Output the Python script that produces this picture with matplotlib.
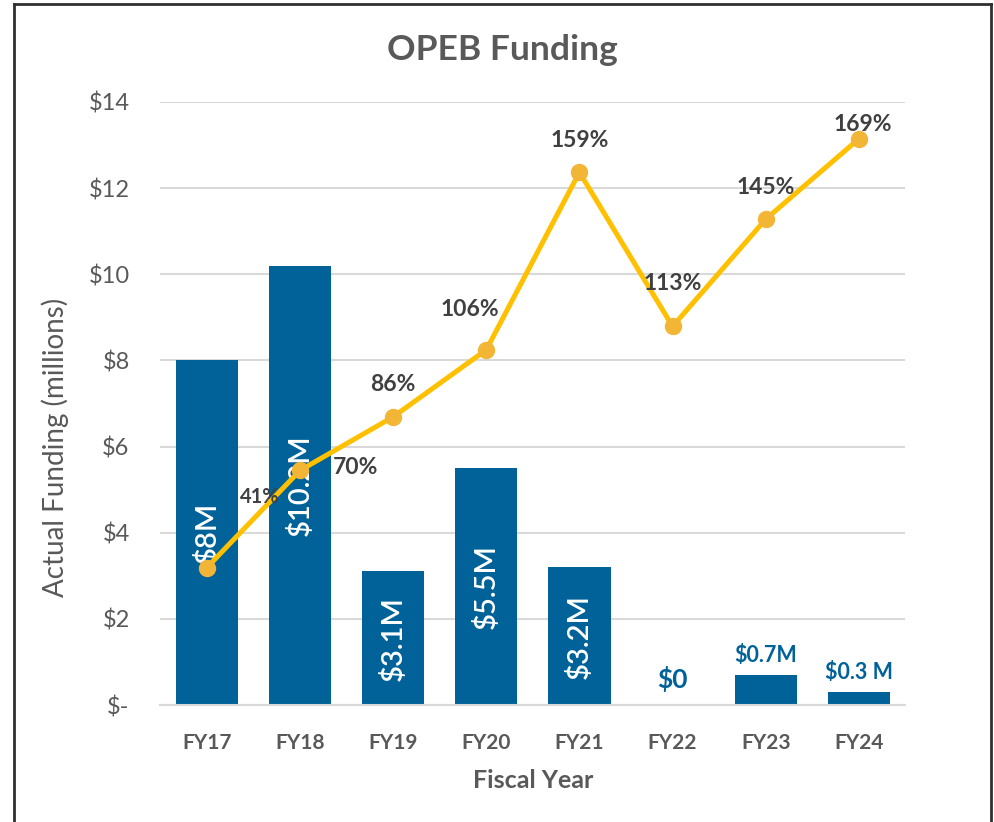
"""OPEB funding: actual funding bars with funded-ratio line."""

import matplotlib

matplotlib.use("Agg")
import matplotlib.pyplot as plt
from matplotlib.lines import Line2D
from matplotlib.ticker import FuncFormatter

plt.rcParams["font.family"] = ["Lato", "DejaVu Sans"]

years = ["FY17", "FY18", "FY19", "FY20", "FY21", "FY22", "FY23", "FY24"]
funding = [8.0, 10.2, 3.1, 5.5, 3.2, 0.0, 0.7, 0.3]
funding_labels = ["$8M", "$10.2M", "$3.1M", "$5.5M", "$3.2M", "$0", "$0.7M", "$0.3 M"]
funded_pct = [41, 70, 86, 106, 159, 113, 145, 169]

BLUE = "#006298"
GOLD = "#FFC000"
MARKER = "#F2B536"
GREY = "#595959"
DARK = "#404040"
GRID = "#D9D9D9"

fig = plt.figure(figsize=(9.95, 8.22), dpi=100)
ax = fig.add_axes([0.161, 0.1423, 0.749, 0.7337])
x = list(range(len(years)))

ax.bar(x, funding, width=0.67, color=BLUE, zorder=2)
ax.set_xlim(-0.5, len(years) - 0.5)
ax.set_ylim(0, 14)
ax.set_yticks(range(0, 15, 2))
ax.yaxis.set_major_formatter(FuncFormatter(lambda v, _: "$-" if v == 0 else f"${v:.0f}"))
ax.grid(axis="y", color=GRID, linewidth=1.5, zorder=0)
ax.set_axisbelow(True)
for side in ("top", "right", "left"):
    ax.spines[side].set_visible(False)
ax.spines["bottom"].set_color(GRID)
ax.spines["bottom"].set_linewidth(1.5)
ax.tick_params(axis="y", length=0, labelsize=17, labelcolor=GREY, pad=22)
ax.tick_params(axis="x", length=0, labelsize=15, labelcolor=GREY, pad=20)
ax.set_xticks(x)
ax.set_xticklabels(years, fontweight="bold")
ax.set_xlabel("Fiscal Year", fontsize=18, fontweight="bold", color=GREY, labelpad=12)
ax.set_ylabel("Actual Funding (millions)", fontsize=20, color=GREY)
ax.yaxis.set_label_coords(-0.122, 0.427)

# bar value labels: inside (rotated) for big bars, above for small ones
for xi, val, lab in zip(x, funding, funding_labels):
    if val >= 2:
        ax.text(xi, val / 2, lab, rotation=90, ha="center", va="center",
                color="white", fontsize=21, fontweight="semibold", zorder=3)
    elif val == 0:
        ax.annotate(lab, (xi, val), xytext=(0, 19), textcoords="offset points",
                    ha="center", va="center", color=BLUE, fontsize=19, fontweight="bold")
    else:
        ax.annotate(lab, (xi, val), xytext=(0, 14), textcoords="offset points",
                    ha="center", va="center", color=BLUE, fontsize=15.5, fontweight="bold")

# funded ratio on a hidden secondary axis
ax2 = ax.twinx()
ax2.set_ylim(0, 180)
ax2.axis("off")
ax2.plot(x, funded_pct, color=GOLD, linewidth=3.6, marker="o", markersize=11.5,
         markerfacecolor=MARKER, markeredgecolor=MARKER, zorder=4)

offsets = [(38, 51), (40, 2), (0, 23), (-12, 29), (0, 23), (0, 31), (0, 23), (3, 10)]
for xi, pct, off in zip(x, funded_pct, offsets):
    ax2.annotate(f"{pct}%", (xi, pct), xytext=off, textcoords="offset points",
                 ha="center", va="center", color=DARK, fontweight="bold",
                 fontsize=14.5 if pct == 41 else 16.5, zorder=5)

fig.text(0.505, 0.939, "OPEB Funding", ha="center", va="center",
         fontsize=25.5, fontweight="bold", color=GREY)

# outer frame of the chart object
fig.add_artist(Line2D([0.0145, 0.0145], [0, 0.995], color="#303030", linewidth=2))
fig.add_artist(Line2D([0.0145, 0.996], [0.995, 0.995], color="#303030", linewidth=2))
fig.add_artist(Line2D([0.996, 0.996], [0, 0.995], color="#303030", linewidth=2))

fig.savefig("out.png", dpi=100)
plt.close(fig)
